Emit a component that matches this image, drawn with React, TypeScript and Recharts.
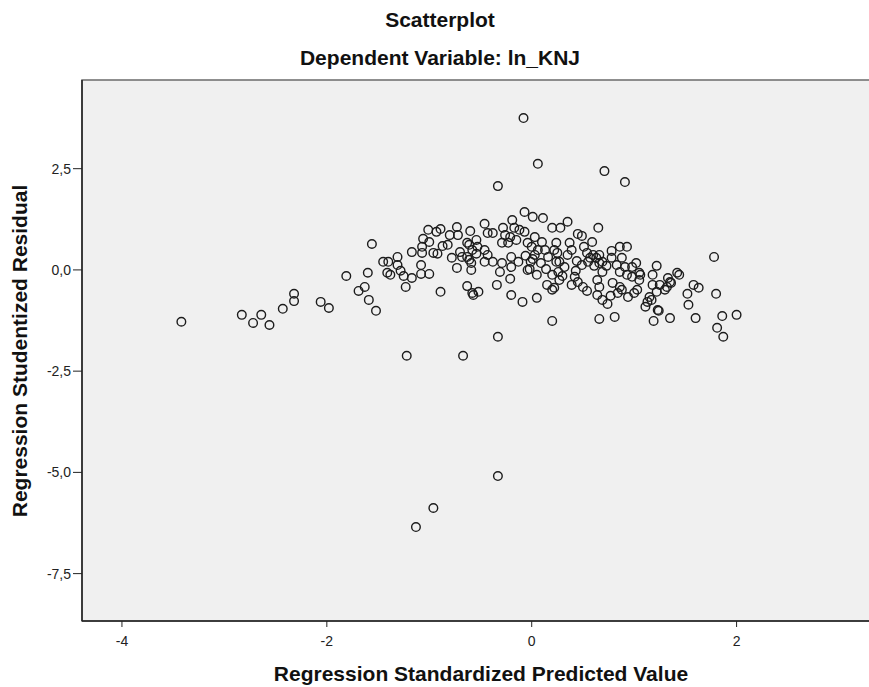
import { ScatterChart, Scatter, XAxis, YAxis, ReferenceArea } from "recharts";

// Regression Standardized Predicted Value (x) and Studentized Residual (y)
const predicted = [
  -3.42, -2.83, -2.72, -2.64, -2.56, -2.43, -2.32, -2.32, -2.06, -1.98,
  -1.81, -1.69, -1.63, -1.6, -1.59, -1.52, -1.56, -1.45, -1.4, -1.41,
  -1.38, -1.31, -1.31, -1.28, -1.25, -1.23, -1.17, -1.17, -1.08, -1.08,
  -1.0, -1.07, -1.07, -1.06, -1.01, -1.0, -0.96, -0.92, -0.93, -0.89,
  -0.87, -0.82, -0.8, -0.78, -0.73, -0.72, -0.7, -0.68, -0.63, -0.61,
  -0.6, -0.61, -0.59, -0.59, -0.89, -0.63, -0.57, -0.52, -1.22, -0.67,
  -0.33, -0.96, -1.13, -0.08, 0.06, -0.33, 0.71, 0.91, -0.07, 0.01,
  0.11, 0.2, -0.46, -0.43, -0.38, -0.28, -0.19, -0.17, -0.12, -0.07,
  -0.26, -0.21, -0.23, -0.29, -0.15, 0.03, -0.04, 0.0, 0.1, 0.13,
  0.06, 0.16, 0.03, 0.01, -0.01, -0.63, -0.54, -0.53, -0.58, -0.54,
  -0.46, -0.43, -0.38, -0.29, -0.2, -0.2, -0.21, -0.04, 0.05, 0.15,
  0.2, -0.34, -0.58, -0.2, -0.09, 0.05, -0.33, 0.2, 0.66, 0.81,
  1.11, 1.19, 1.24, 1.35, 1.53, 1.52, 1.58, 1.63, 1.6, 1.78,
  1.8, 1.86, 2.0, 1.81, 1.87, 1.44, 1.22, 1.02, 0.78, 0.86,
  0.65, 0.45, 0.35, 0.28, 0.24, 0.22, 0.25, 0.37, 0.39, 0.35,
  0.24, 0.32, 0.44, 0.49, 0.54, 0.55, 0.57, 0.6, 0.63, 0.66,
  0.66, 0.61, 0.69, 0.73, 0.69, 0.78, 0.83, 0.88, 0.91, 0.86,
  0.93, 0.79, 0.86, 0.94, 0.2, 0.26, 0.3, 0.27, 0.42, 0.45,
  0.5, 0.39, 0.22, 0.54, 0.64, 0.66, 0.64, 0.69, 0.74, 0.98,
  1.05, 0.98, 1.05, 1.18, 1.33, 1.36, 1.18, 1.25, 1.3, 1.22,
  1.15, 1.17, 1.13, 1.03, 1.0, 1.23, 1.42, 0.93, 1.32, 1.35,
  0.14, -0.02, 0.09, 0.43, 0.27, 1.06, 0.84, 0.88, 0.77, 0.51,
  0.59, 0.49, -0.06, -0.13, -0.31, -0.46, -0.73,
];

const residual = [
  -1.28, -1.11, -1.31, -1.11, -1.36, -0.96, -0.59, -0.77, -0.79, -0.94,
  -0.15, -0.52, -0.42, -0.07, -0.74, -1.01, 0.64, 0.2, 0.2, -0.07,
  -0.12, 0.32, 0.12, -0.02, -0.15, -0.42, -0.2, 0.44, 0.12, -0.1,
  -0.1, 0.42, 0.57, 0.77, 0.99, 0.69, 0.42, 0.4, 0.94, 1.01,
  0.59, 0.62, 0.86, 0.3, 1.06, 0.86, 0.44, 0.32, 0.32, 0.25,
  0.96, 0.62, 0.0, 0.17, -0.54, -0.4, -0.62, -0.54, -2.12, -2.12,
  -5.09, -5.88, -6.35, 3.75, 2.62, 2.07, 2.44, 2.17, 1.43, 1.31,
  1.28, 1.04, 1.14, 0.91, 0.91, 1.04, 1.23, 1.04, 0.99, 0.94,
  0.86, 0.81, 0.67, 0.67, 0.74, 0.81, 0.67, 0.57, 0.69, 0.49,
  0.49, 0.32, 0.37, 0.27, 0.2, 0.67, 0.74, 0.57, 0.49, 0.4,
  0.49, 0.37, 0.2, 0.17, 0.32, 0.07, -0.22, 0.0, -0.12, -0.37,
  -0.49, -0.37, -0.57, -0.62, -0.79, -0.69, -1.65, -1.26, -1.21, -1.16,
  -0.91, -1.26, -1.01, -1.19, -0.86, -0.59, -0.37, -0.44, -1.19, 0.32,
  -0.59, -1.14, -1.11, -1.43, -1.65, -0.12, 0.1, 0.17, 0.47, 0.57,
  1.04, 0.89, 1.19, 1.04, 0.67, 0.49, 0.42, 0.67, 0.49, 0.37,
  0.2, 0.07, 0.22, 0.12, 0.42, 0.2, 0.3, 0.37, 0.3, 0.37,
  0.17, 0.1, 0.2, 0.1, -0.05, 0.3, 0.12, 0.3, 0.07, -0.05,
  -0.12, -0.32, -0.42, -0.67, -0.12, -0.05, -0.15, -0.25, -0.17, -0.3,
  -0.42, -0.37, -0.44, -0.52, -0.25, -0.42, -0.62, -0.74, -0.84, 0.07,
  -0.07, -0.17, -0.25, -0.12, -0.2, -0.32, -0.37, -0.37, -0.49, -0.54,
  -0.67, -0.74, -0.79, -0.49, -0.57, -0.99, -0.07, 0.57, -0.42, -0.3,
  0.02, 0.02, 0.17, -0.02, 0.2, -0.12, -0.57, -0.49, -0.64, 0.57,
  0.69, 0.84, 0.35, 0.2, -0.05, 0.2, 0.05,
];

const xTicks = [-4, -2, 0, 2];
const yTicks = [-7.5, -5, -2.5, 0, 2.5];

const points = predicted.map((x, i) => ({ x, y: residual[i] }));

const X_DOMAIN: [number, number] = [-4.39, 3.4];
const Y_DOMAIN: [number, number] = [-8.67, 4.69];

const font = "'Liberation Sans', Arial, sans-serif";

function Ring(props: any) {
  const { cx, cy } = props;
  if (cx == null || cy == null) return null;
  return (
    <circle cx={cx} cy={cy} r={4.3} fill="none" stroke="#1c1c1c" strokeWidth={1.4} />
  );
}

export default function App() {
  return (
    <div
      style={{
        position: "absolute",
        left: 0,
        top: 0,
        width: 869,
        height: 687,
        overflow: "hidden",
        background: "#fff",
        fontFamily: font,
      }}
    >
      <ScatterChart width={880} height={687} margin={{ top: 80, right: 0, bottom: 36, left: 0 }}>
        <ReferenceArea
          x1={X_DOMAIN[0]}
          x2={X_DOMAIN[1]}
          y1={Y_DOMAIN[0]}
          y2={Y_DOMAIN[1]}
          fill="#f0f0f0"
          fillOpacity={1}
          stroke="#6b6b6b"
          strokeWidth={1.5}
        />
        <XAxis
          type="number"
          dataKey="x"
          domain={X_DOMAIN}
          ticks={xTicks}
          allowDataOverflow
          height={30}
          tickSize={6}
          tickMargin={9}
          axisLine={{ stroke: "#222", strokeWidth: 1.5 }}
          tickLine={{ stroke: "#222" }}
          tick={{ fontSize: 14, fill: "#222", fontFamily: font }}
        />
        <YAxis
          type="number"
          dataKey="y"
          domain={Y_DOMAIN}
          ticks={yTicks}
          allowDataOverflow
          width={82}
          tickSize={9}
          tickMargin={2}
          tickFormatter={(v: number) => v.toFixed(1).replace(".", ",")}
          axisLine={{ stroke: "#222", strokeWidth: 1.5 }}
          tickLine={{ stroke: "#222" }}
          tick={{ fontSize: 14, fill: "#222", fontFamily: font }}
        />
        <Scatter data={points} shape={<Ring />} isAnimationActive={false} />
      </ScatterChart>
      <svg
        width={880}
        height={687}
        style={{ position: "absolute", left: 0, top: 0, pointerEvents: "none" }}
      >
        <g fontFamily={font} fontWeight="bold" fontSize={21} fill="#111">
          <text x={440} y={27} textAnchor="middle">
            Scatterplot
          </text>
          <text x={440} y={65} textAnchor="middle">
            Dependent Variable: ln_KNJ
          </text>
          <text x={481} y={681} textAnchor="middle">
            Regression Standardized Predicted Value
          </text>
          <text transform="translate(27,351) rotate(-90)" textAnchor="middle">
            Regression Studentized Residual
          </text>
        </g>
      </svg>
    </div>
  );
}
